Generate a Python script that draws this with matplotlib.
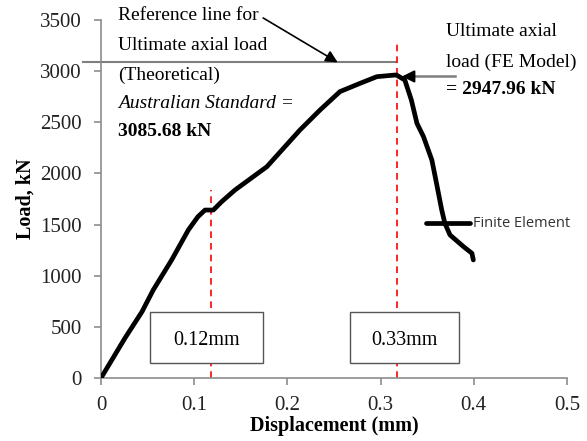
import numpy as np
import matplotlib.pyplot as plt

# load-displacement curve (FE model)
disp = [0.0, 0.0257, 0.044, 0.056, 0.0758, 0.0937, 0.104, 0.1116, 0.1205, 0.1295,
        0.1438, 0.178, 0.2135, 0.235, 0.2564, 0.278, 0.296, 0.3155, 0.317,
        0.326, 0.333, 0.339, 0.346, 0.355, 0.360, 0.3656, 0.369, 0.3745,
        0.389, 0.398, 0.3995]
load = [0, 390, 648, 860, 1154, 1447, 1577, 1642, 1642, 1724,
        1838, 2066, 2425, 2620, 2800, 2881, 2946, 2962, 2962,
        2913, 2718, 2490, 2360, 2131, 1903, 1642, 1512, 1398,
        1284, 1219, 1154]

ref_load = 3085.68
fe_peak = 2947.96
marks = [0.1176, 0.3172]
mark_labels = ["0.12mm", "0.33mm"]

plt.rcParams['font.family'] = 'Liberation Serif'
W, H = 587, 441
fig = plt.figure(figsize=(W / 100, H / 100), dpi=100)
ax = fig.add_axes([101 / W, 1 - 378 / H, 466 / W, 358 / H])

ax.plot(disp, load, color='black', lw=3.4, solid_capstyle='round',
        solid_joinstyle='round', zorder=3)

# theoretical reference line, runs a little past the y axis
ax.plot([-0.019, 0.317], [ref_load, ref_load], color='#7f7f7f', lw=1.5, clip_on=False)

ax.plot([marks[0], marks[0]], [0, 1840], color='red', ls=(0, (4, 3)), lw=1.2)
ax.plot([marks[1], marks[1]], [0, 3300], color='red', ls=(0, (4, 3)), lw=1.2)

ax.set_xlim(0, 0.5)
ax.set_ylim(0, 3500)
ax.set_xticks(np.arange(0, 0.51, 0.1))
ax.set_xticklabels(['0', '0.1', '0.2', '0.3', '0.4', '0.5'])
ax.set_yticks(np.arange(0, 3501, 500))
for s in ['top', 'right']:
    ax.spines[s].set_visible(False)
for s in ['left', 'bottom']:
    ax.spines[s].set_color('#8c8c8c')
    ax.spines[s].set_linewidth(1.2)
ax.tick_params(colors='#8c8c8c', labelcolor='#222222', labelsize=15, length=5, width=1.2)
ax.tick_params(axis='y', pad=9)
ax.tick_params(axis='x', pad=8)
ax.set_xlabel('Displacement (mm)', fontsize=14.5, fontweight='bold', labelpad=1)
ax.set_ylabel('Load, kN', fontsize=14.5, fontweight='bold', labelpad=3)

# legend-like marker
ax.plot([0.349, 0.396], [1512, 1512], color='black', lw=3.4, solid_capstyle='round')
ax.text(0.399, 1512, 'Finite Element', fontsize=10.5, family='Open Sans',
        color='#333333', va='center')

# boxes with displacement values
for (x0, x1), lab in zip([(150, 263), (350, 459)], mark_labels):
    xa = (x0 - 101) / 932
    xb = (x1 - 101) / 932
    ya = (378 - 363) * 3500 / 358
    yb = (378 - 311.5) * 3500 / 358
    ax.add_patch(plt.Rectangle((xa, ya), xb - xa, yb - ya, fill=True,
                               facecolor='white', edgecolor='#555555', lw=1.0, zorder=4))
    ax.text((xa + xb) / 2, (ya + yb) / 2 - 30, lab, ha='center', va='center',
            fontsize=14.5, zorder=5)

# annotation text
fs = 14
def ftxt(px, py, s, **kw):
    fig.text(px / W, 1 - py / H, s, fontsize=fs, va='center', **kw)

ftxt(118, 16, 'Reference line for')
ftxt(118, 45, 'Ultimate axial load')
ftxt(118, 75, '(Theoretical)')
ftxt(118, 104, 'Australian Standard =', style='italic')
ftxt(118, 132, '3085.68 kN', fontweight='bold')

ftxt(446, 32, 'Ultimate axial')
ftxt(446, 62, 'load (FE Model)')
ftxt(446, 90, '= 2947.96 kN', fontweight='bold')

ax.annotate('', xy=(0.254, ref_load), xytext=(0.174, 3520),
            arrowprops=dict(arrowstyle='-|>', color='black', lw=1.2,
                            mutation_scale=18, shrinkA=0, shrinkB=0),
            annotation_clip=False)
# FE peak arrow: grey shaft, black head
ax.plot([0.333, 0.380], [fe_peak, fe_peak], color='#7f7f7f', lw=1.8, clip_on=False)
ax.annotate('', xy=(0.323, fe_peak), xytext=(0.336, fe_peak),
            arrowprops=dict(arrowstyle='-|>', color='black', lw=1.5,
                            mutation_scale=18, shrinkA=0, shrinkB=0),
            annotation_clip=False)

fig.savefig('out.png', dpi=100)
